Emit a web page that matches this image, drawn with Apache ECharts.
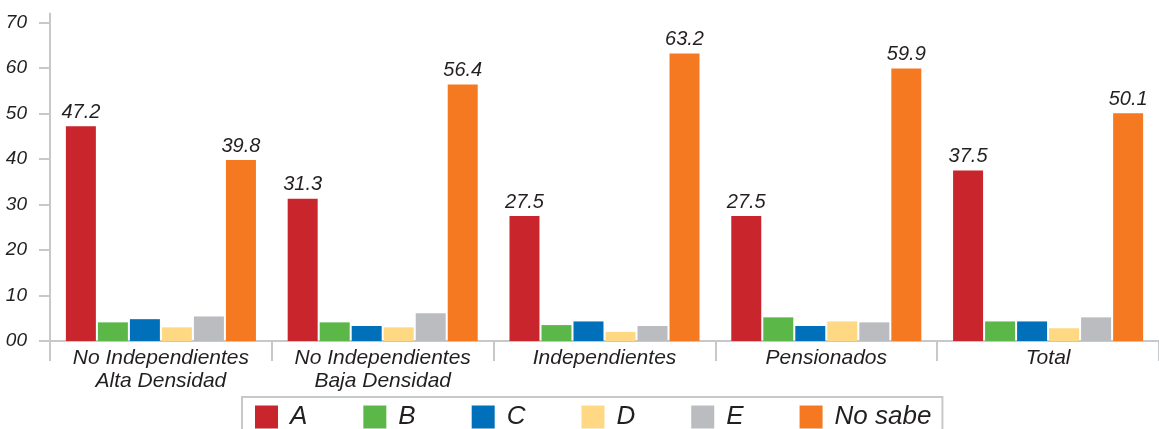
<!DOCTYPE html>
<html>
<head>
    <meta charset="utf-8">
    <title>Chart</title>
    <script src="https://cdn.jsdelivr.net/npm/echarts@6/dist/echarts.min.js"></script>
    <style>
        html, body { margin: 0; padding: 0; background: #fff; }
        #main { width: 1159px; height: 429px; }
    </style>
</head>
<body>
    <div id="main"></div>
    <script type="text/javascript">
        var categories = ['No Independientes\nAlta Densidad', 'No Independientes\nBaja Densidad', 'Independientes', 'Pensionados', 'Total'];
        var seriesNames = ['A', 'B', 'C', 'D', 'E', 'No sabe'];
        var valuesA = [47.2, 31.3, 27.5, 27.5, 37.5];
        var valuesB = [4.1, 4.1, 3.5, 5.2, 4.3];
        var valuesC = [4.8, 3.3, 4.3, 3.3, 4.3];
        var valuesD = [3.0, 3.0, 2.0, 4.3, 2.8];
        var valuesE = [5.4, 6.1, 3.3, 4.1, 5.2];
        var valuesNoSabe = [39.8, 56.4, 63.2, 59.9, 50.1];
        var yTicks = [0, 10, 20, 30, 40, 50, 60, 70];

        var colors = ['#C9252D', '#5BB848', '#0070BA', '#FED882', '#BBBCBF', '#F47920'];
        var allValues = [valuesA, valuesB, valuesC, valuesD, valuesE, valuesNoSabe];
        var regular = '"Liberation Sans", Arial, sans-serif';
        var axisGray = '#C7C8CA';
        var textDark = '#231F20';

        var series = [];
        for (var i = 0; i < seriesNames.length; i++) {
            var withLabel = (i === 0 || i === 5);
            series.push({
                name: seriesNames[i],
                type: 'bar',
                barWidth: 30,
                barGap: '6.7%',
                data: allValues[i],
                itemStyle: { color: colors[i] },
                label: {
                    show: withLabel,
                    position: 'top',
                    distance: 4,
                    fontFamily: regular,
                    fontStyle: 'italic',
                    fontSize: 20,
                    color: textDark,
                    formatter: function (p) { return p.value.toFixed(1); }
                }
            });
        }

        var chart = echarts.init(document.getElementById('main'));
        var option = {
            animation: false,
            color: colors,
            grid: { left: 50, right: 0, top: 13.6, bottom: 88 },
            legend: {
                data: seriesNames,
                left: 242,
                top: 397,
                itemWidth: 23,
                itemHeight: 23,
                itemGap: 56,
                icon: 'rect',
                padding: [7, 11, 20, 13],
                borderColor: axisGray,
                borderWidth: 2,
                textStyle: {
                    fontFamily: regular,
                    fontStyle: 'italic',
                    fontSize: 26,
                    color: textDark,
                    padding: [0, 0, 0, 7]
                }
            },
            xAxis: {
                type: 'category',
                data: categories,
                axisLine: { lineStyle: { color: axisGray, width: 2 } },
                axisTick: { show: true, interval: 0, length: 20, lineStyle: { color: axisGray, width: 2 } },
                axisLabel: {
                    interval: 0,
                    margin: 6,
                    fontFamily: regular,
                    fontStyle: 'italic',
                    fontSize: 21,
                    lineHeight: 23,
                    color: textDark
                }
            },
            yAxis: {
                type: 'value',
                min: 0,
                max: 72,
                axisLine: { show: true, lineStyle: { color: axisGray, width: 2 } },
                axisTick: { show: true, length: 11, customValues: yTicks, lineStyle: { color: axisGray, width: 2 } },
                splitLine: { show: false },
                axisLabel: {
                    customValues: yTicks,
                    margin: 23,
                    fontFamily: regular,
                    fontStyle: 'italic',
                    fontSize: 19,
                    color: textDark,
                    formatter: function (v) { return v === 0 ? '00' : String(v); }
                }
            },
            series: series
        };
        chart.setOption(option);
    </script>
</body>
</html>
